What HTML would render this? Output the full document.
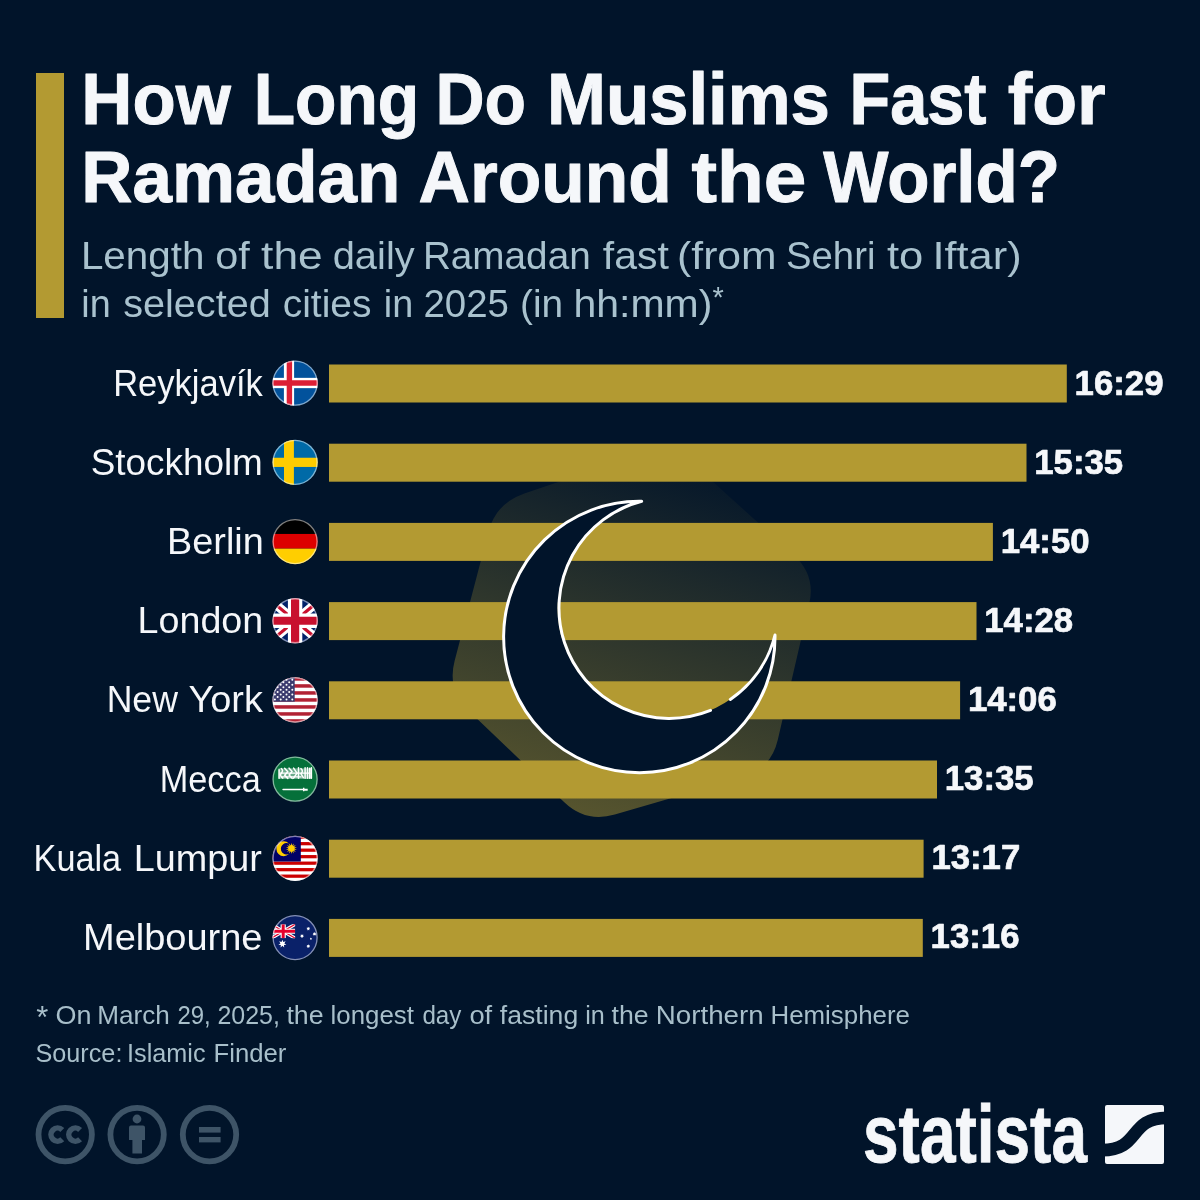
<!DOCTYPE html>
<html lang="en">
<head>
<meta charset="utf-8">
<title>How Long Do Muslims Fast for Ramadan Around the World?</title>
<style>
html,body{margin:0;padding:0;background:#01142a;}
body{width:1200px;height:1200px;overflow:hidden;}
svg{display:block;font-family:"Liberation Sans",sans-serif;}
.t{font-weight:700;font-size:71.5px;fill:#f5f7fa;stroke:#f5f7fa;stroke-width:1px;stroke-linejoin:round;}
.s{font-size:39.5px;fill:#a9c2ce;}
.c{font-size:36px;fill:#f5f7fa;}
.v{font-size:35.4px;font-weight:700;fill:#f5f7fa;stroke:#f5f7fa;stroke-width:0.7px;stroke-linejoin:round;}
.f{font-size:25px;fill:#a8bfca;}
</style>
</head>
<body>
<svg width="1200" height="1200" viewBox="0 0 1200 1200">
<defs>
<clipPath id="fc"><circle cx="0" cy="0" r="22.6"/></clipPath>
<linearGradient id="bg" gradientUnits="userSpaceOnUse" x1="710.3" y1="452.5" x2="592.3" y2="834.9">
<stop offset="0" stop-color="#b39a32" stop-opacity="0"/>
<stop offset="1" stop-color="#b39a32" stop-opacity="0.50"/>
</linearGradient>
</defs>
<rect width="1200" height="1200" fill="#01142a"/>
<rect x="36" y="73" width="28" height="245" fill="#b39a32"/>

<text class="t" y="124"><tspan x="81.30" textLength="149.50" lengthAdjust="spacingAndGlyphs">How</tspan> <tspan x="253.70" textLength="165.50" lengthAdjust="spacingAndGlyphs">Long</tspan> <tspan x="435.50" textLength="90.50" lengthAdjust="spacingAndGlyphs">Do</tspan> <tspan x="547.00" textLength="282.90" lengthAdjust="spacingAndGlyphs">Muslims</tspan> <tspan x="849.50" textLength="136.90" lengthAdjust="spacingAndGlyphs">Fast</tspan> <tspan x="1007.70" textLength="97.90" lengthAdjust="spacingAndGlyphs">for</tspan></text>
<text class="t" y="202.3"><tspan x="81.30" textLength="319.00" lengthAdjust="spacingAndGlyphs">Ramadan</tspan> <tspan x="418.50" textLength="253.20" lengthAdjust="spacingAndGlyphs">Around</tspan> <tspan x="691.40" textLength="114.80" lengthAdjust="spacingAndGlyphs">the</tspan> <tspan x="823.30" textLength="236.70" lengthAdjust="spacingAndGlyphs">World?</tspan></text>
<text class="s" y="269.4"><tspan x="80.90" textLength="123.50" lengthAdjust="spacingAndGlyphs">Length</tspan> <tspan x="215.20" textLength="34.50" lengthAdjust="spacingAndGlyphs">of</tspan> <tspan x="261.10" textLength="61.60" lengthAdjust="spacingAndGlyphs">the</tspan> <tspan x="332.70" textLength="82.00" lengthAdjust="spacingAndGlyphs">daily</tspan> <tspan x="422.90" textLength="167.80" lengthAdjust="spacingAndGlyphs">Ramadan</tspan> <tspan x="602.80" textLength="66.10" lengthAdjust="spacingAndGlyphs">fast</tspan> <tspan x="677.10" textLength="99.50" lengthAdjust="spacingAndGlyphs">(from</tspan> <tspan x="786.00" textLength="89.40" lengthAdjust="spacingAndGlyphs">Sehri</tspan> <tspan x="886.90" textLength="36.30" lengthAdjust="spacingAndGlyphs">to</tspan> <tspan x="932.50" textLength="89.10" lengthAdjust="spacingAndGlyphs">Iftar)</tspan></text>
<text class="s" y="317.4"><tspan x="81.30" textLength="29.40" lengthAdjust="spacingAndGlyphs">in</tspan> <tspan x="123.20" textLength="147.50" lengthAdjust="spacingAndGlyphs">selected</tspan> <tspan x="282.70" textLength="88.80" lengthAdjust="spacingAndGlyphs">cities</tspan> <tspan x="383.80" textLength="29.40" lengthAdjust="spacingAndGlyphs">in</tspan> <tspan x="423.50" textLength="85.50" lengthAdjust="spacingAndGlyphs">2025</tspan> <tspan x="520.10" textLength="43.10" lengthAdjust="spacingAndGlyphs">(in</tspan> <tspan x="573.40" textLength="139.00" lengthAdjust="spacingAndGlyphs">hh:mm)</tspan></text>
<text class="s" x="712.6" y="306.7" style="font-size:29px">*</text>

<path d="M488.4,532.0 Q496,503 524.4,493.4 L642.6,453.6 Q671,444 693.3,464.1 L793.7,554.9 Q816,575 809.2,604.2 L777.8,739.8 Q771,769 742.2,777.4 L614.8,814.6 Q586,823 564.3,802.3 L468.7,710.7 Q447,690 454.6,661.0 Z" fill="url(#bg)"/>
<rect x="329" y="364.50" width="737.8" height="38" fill="#b39a32"/>
<rect x="329" y="443.70" width="697.5" height="38" fill="#b39a32"/>
<rect x="329" y="522.90" width="663.9" height="38" fill="#b39a32"/>
<rect x="329" y="602.10" width="647.5" height="38" fill="#b39a32"/>
<rect x="329" y="681.30" width="631.1" height="38" fill="#b39a32"/>
<rect x="329" y="760.50" width="608.0" height="38" fill="#b39a32"/>
<rect x="329" y="839.70" width="594.6" height="38" fill="#b39a32"/>
<rect x="329" y="918.90" width="593.8" height="38" fill="#b39a32"/>
<path d="M641.7,501.3 A135.7,135.7 0 1 0 775,635 A110.3,110.3 0 1 1 641.7,501.3 Z" fill="#01142a"/>
<path d="M730.3,699.4 A110.3,110.3 0 0 0 775,635 A135.7,135.7 0 1 1 641.7,501.3 A110.3,110.3 0 1 0 710.5,710.4" fill="none" stroke="#fff" stroke-width="3" stroke-linejoin="round" stroke-linecap="round"/>
<text class="c" y="395.6"><tspan x="113.13" textLength="149.72" lengthAdjust="spacingAndGlyphs">Reykjavík</tspan></text>
<g transform="translate(295.1,383.15)" clip-path="url(#fc)">
<rect x="-23" y="-23" width="46" height="46" fill="#02529c"/>
<rect x="-11.2" y="-23" width="10.2" height="46" fill="#fff"/><rect x="-23" y="-5.3" width="46" height="10.3" fill="#fff"/>
<rect x="-8.4" y="-23" width="5.4" height="46" fill="#dc1e35"/><rect x="-23" y="-2.9" width="46" height="5.5" fill="#dc1e35"/>
</g>
<circle cx="295.1" cy="383.15" r="22.0" fill="none" stroke="#fff" stroke-opacity="0.5" stroke-width="1.3"/>
<text class="v" x="1074.6" y="395.10" textLength="88.9" lengthAdjust="spacingAndGlyphs">16:29</text>
<text class="c" y="474.8"><tspan x="90.70" textLength="172.15" lengthAdjust="spacingAndGlyphs">Stockholm</tspan></text>
<g transform="translate(295.1,462.35)" clip-path="url(#fc)">
<rect x="-23" y="-23" width="46" height="46" fill="#006aa7"/>
<rect x="-11.1" y="-23" width="9.9" height="46" fill="#fecc00"/><rect x="-23" y="-4.6" width="46" height="9.2" fill="#fecc00"/>
</g>
<circle cx="295.1" cy="462.35" r="22.0" fill="none" stroke="#fff" stroke-opacity="0.5" stroke-width="1.3"/>
<text class="v" x="1034.3" y="474.10" textLength="88.9" lengthAdjust="spacingAndGlyphs">15:35</text>
<text class="c" y="554.0"><tspan x="167.05" textLength="96.75" lengthAdjust="spacingAndGlyphs">Berlin</tspan></text>
<g transform="translate(295.1,541.55)" clip-path="url(#fc)">
<rect x="-23" y="-23" width="46" height="15.4" fill="#000"/><rect x="-23" y="-7.6" width="46" height="14.7" fill="#dd0000"/><rect x="-23" y="7.1" width="46" height="16" fill="#ffce00"/>
</g>
<circle cx="295.1" cy="541.55" r="22.0" fill="none" stroke="#fff" stroke-opacity="0.5" stroke-width="1.3"/>
<text class="v" x="1000.7" y="553.10" textLength="88.9" lengthAdjust="spacingAndGlyphs">14:50</text>
<text class="c" y="633.2"><tspan x="137.60" textLength="125.65" lengthAdjust="spacingAndGlyphs">London</tspan></text>
<g transform="translate(295.1,620.75)" clip-path="url(#fc)">
<rect x="-23" y="-23" width="46" height="46" fill="#012169"/>
<path d="M-30,-25 L30,25 M30,-25 L-30,25" stroke="#fff" stroke-width="9"/>
<path d="M-30,-25 L30,25 M30,-25 L-30,25" stroke="#c8102e" stroke-width="3.2"/>
<path d="M0,-23 V23 M-23,0 H23" stroke="#fff" stroke-width="14.4"/>
<path d="M0,-23 V23 M-23,0 H23" stroke="#c8102e" stroke-width="8.2"/>
</g>
<circle cx="295.1" cy="620.75" r="22.0" fill="none" stroke="#fff" stroke-opacity="0.5" stroke-width="1.3"/>
<text class="v" x="984.3" y="632.10" textLength="88.9" lengthAdjust="spacingAndGlyphs">14:28</text>
<text class="c" y="712.4"><tspan x="106.65" textLength="71.25" lengthAdjust="spacingAndGlyphs">New</tspan> <tspan x="188.40" textLength="74.45" lengthAdjust="spacingAndGlyphs">York</tspan></text>
<g transform="translate(295.1,699.95)" clip-path="url(#fc)">
<rect x="-23" y="-23" width="46" height="46" fill="#fff"/>
<rect x="-23" y="-22.75" width="46" height="3.5" fill="#b22234"/>
<rect x="-23" y="-15.75" width="46" height="3.5" fill="#b22234"/>
<rect x="-23" y="-8.75" width="46" height="3.5" fill="#b22234"/>
<rect x="-23" y="-1.75" width="46" height="3.5" fill="#b22234"/>
<rect x="-23" y="5.25" width="46" height="3.5" fill="#b22234"/>
<rect x="-23" y="12.25" width="46" height="3.5" fill="#b22234"/>
<rect x="-23" y="19.25" width="46" height="3.5" fill="#b22234"/>
<rect x="-23" y="-22.75" width="22.6" height="24.5" fill="#3c3b6e"/>
<g fill="#fff"><circle cx="-2.80" cy="-20.10" r="1.0"/><circle cx="-8.60" cy="-20.10" r="1.0"/><circle cx="-14.40" cy="-20.10" r="1.0"/><circle cx="-20.20" cy="-20.10" r="1.0"/><circle cx="-26.00" cy="-20.10" r="1.0"/><circle cx="-5.90" cy="-17.65" r="1.0"/><circle cx="-11.70" cy="-17.65" r="1.0"/><circle cx="-17.50" cy="-17.65" r="1.0"/><circle cx="-23.30" cy="-17.65" r="1.0"/><circle cx="-29.10" cy="-17.65" r="1.0"/><circle cx="-2.80" cy="-15.20" r="1.0"/><circle cx="-8.60" cy="-15.20" r="1.0"/><circle cx="-14.40" cy="-15.20" r="1.0"/><circle cx="-20.20" cy="-15.20" r="1.0"/><circle cx="-26.00" cy="-15.20" r="1.0"/><circle cx="-5.90" cy="-12.75" r="1.0"/><circle cx="-11.70" cy="-12.75" r="1.0"/><circle cx="-17.50" cy="-12.75" r="1.0"/><circle cx="-23.30" cy="-12.75" r="1.0"/><circle cx="-29.10" cy="-12.75" r="1.0"/><circle cx="-2.80" cy="-10.30" r="1.0"/><circle cx="-8.60" cy="-10.30" r="1.0"/><circle cx="-14.40" cy="-10.30" r="1.0"/><circle cx="-20.20" cy="-10.30" r="1.0"/><circle cx="-26.00" cy="-10.30" r="1.0"/><circle cx="-5.90" cy="-7.85" r="1.0"/><circle cx="-11.70" cy="-7.85" r="1.0"/><circle cx="-17.50" cy="-7.85" r="1.0"/><circle cx="-23.30" cy="-7.85" r="1.0"/><circle cx="-29.10" cy="-7.85" r="1.0"/><circle cx="-2.80" cy="-5.40" r="1.0"/><circle cx="-8.60" cy="-5.40" r="1.0"/><circle cx="-14.40" cy="-5.40" r="1.0"/><circle cx="-20.20" cy="-5.40" r="1.0"/><circle cx="-26.00" cy="-5.40" r="1.0"/><circle cx="-5.90" cy="-2.95" r="1.0"/><circle cx="-11.70" cy="-2.95" r="1.0"/><circle cx="-17.50" cy="-2.95" r="1.0"/><circle cx="-23.30" cy="-2.95" r="1.0"/><circle cx="-29.10" cy="-2.95" r="1.0"/><circle cx="-2.80" cy="-0.50" r="1.0"/><circle cx="-8.60" cy="-0.50" r="1.0"/><circle cx="-14.40" cy="-0.50" r="1.0"/><circle cx="-20.20" cy="-0.50" r="1.0"/><circle cx="-26.00" cy="-0.50" r="1.0"/></g>
</g>
<circle cx="295.1" cy="699.95" r="22.0" fill="none" stroke="#fff" stroke-opacity="0.5" stroke-width="1.3"/>
<text class="v" x="967.9" y="711.10" textLength="88.9" lengthAdjust="spacingAndGlyphs">14:06</text>
<text class="c" y="791.6"><tspan x="159.75" textLength="100.95" lengthAdjust="spacingAndGlyphs">Mecca</tspan></text>
<g transform="translate(295.1,779.15)" clip-path="url(#fc)">
<rect x="-23" y="-23" width="46" height="46" fill="#05703a"/>
<rect x="-16.6" y="-10.8" width="33" height="10.6" fill="#fff" fill-opacity="0.42"/>
<g stroke="#fff" fill="none" stroke-width="1.5" stroke-linecap="round" stroke-linejoin="round"><path d="M-16,-9.5 v8.5 M-13.8,-10.5 q2.5,2 0,4.5 q-2,2.5 1.5,5 M-10.5,-10.8 l3.2,3.4 l-3.2,3.4 l3.2,3.2 M-6,-11 l3,3.4 l-3,3.4 l3,3.4 M-1.5,-11 l3.4,5 l-3.4,5 M3.4,-11.3 v10.5 M5.8,-10.5 q3,2.5 0,5 l2.4,4 M10,-11.3 v10.5 M12.4,-11.3 v10.5 M14.6,-11 v10 M16.3,-11.3 v10.5"/><path d="M-15,-6 h30 M-14,-2.2 h20" stroke-width="1.2"/></g>
<path d="M-12,10.3 H9" stroke="#fff" stroke-width="1.6" stroke-linecap="round"/><path d="M8.6,8.6 v3.6" stroke="#fff" stroke-width="1.4"/><path d="M9,10.6 h3.6" stroke="#fff" stroke-width="2"/>
</g>
<circle cx="295.1" cy="779.15" r="22.0" fill="none" stroke="#fff" stroke-opacity="0.5" stroke-width="1.3"/>
<text class="v" x="944.8" y="790.10" textLength="88.9" lengthAdjust="spacingAndGlyphs">13:35</text>
<text class="c" y="870.8"><tspan x="33.60" textLength="87.55" lengthAdjust="spacingAndGlyphs">Kuala</tspan> <tspan x="133.65" textLength="128.20" lengthAdjust="spacingAndGlyphs">Lumpur</tspan></text>
<g transform="translate(295.1,858.35)" clip-path="url(#fc)">
<rect x="-23" y="-23" width="46" height="46" fill="#fff"/>
<rect x="-23" y="-22.80" width="46" height="3.25" fill="#cc0001"/>
<rect x="-23" y="-16.30" width="46" height="3.25" fill="#cc0001"/>
<rect x="-23" y="-9.80" width="46" height="3.25" fill="#cc0001"/>
<rect x="-23" y="-3.30" width="46" height="3.25" fill="#cc0001"/>
<rect x="-23" y="3.20" width="46" height="3.25" fill="#cc0001"/>
<rect x="-23" y="9.70" width="46" height="3.25" fill="#cc0001"/>
<rect x="-23" y="16.20" width="46" height="3.25" fill="#cc0001"/>
<rect x="-23" y="-22.8" width="28.7" height="26" fill="#010066"/>
<path d="M-6.21,-14.97 A7.4,7.4 0 1 0 -6.21,-4.23 A5.8,5.8 0 1 1 -6.21,-14.97 Z" fill="#ffcc00"/>
<polygon points="-3.70,-15.50 -3.05,-12.73 -1.27,-14.95 -1.89,-12.17 0.68,-13.39 -1.09,-11.16 1.76,-11.15 -0.80,-9.90 1.76,-8.65 -1.09,-8.64 0.68,-6.41 -1.89,-7.63 -1.27,-4.85 -3.05,-7.07 -3.70,-4.30 -4.35,-7.07 -6.13,-4.85 -5.51,-7.63 -8.08,-6.41 -6.31,-8.64 -9.16,-8.65 -6.60,-9.90 -9.16,-11.15 -6.31,-11.16 -8.08,-13.39 -5.51,-12.17 -6.13,-14.95 -4.35,-12.73" fill="#ffcc00"/>
</g>
<circle cx="295.1" cy="858.35" r="22.0" fill="none" stroke="#fff" stroke-opacity="0.5" stroke-width="1.3"/>
<text class="v" x="931.4" y="869.10" textLength="88.9" lengthAdjust="spacingAndGlyphs">13:17</text>
<text class="c" y="950.0"><tspan x="83.00" textLength="179.50" lengthAdjust="spacingAndGlyphs">Melbourne</tspan></text>
<g transform="translate(295.1,937.55)" clip-path="url(#fc)">
<rect x="-23" y="-23" width="46" height="46" fill="#0a2169"/>
<g transform="translate(-11.9,-6.3)"><clipPath id="uj"><rect x="-12" y="-7" width="24" height="14"/></clipPath><g clip-path="url(#uj)"><path d="M-12,-7 L12,7 M12,-7 L-12,7" stroke="#fff" stroke-width="3.4"/><path d="M-12,-7 L12,7 M12,-7 L-12,7" stroke="#e4002b" stroke-width="1.2"/><path d="M0,-7 V7 M-12,0 H12" stroke="#fff" stroke-width="5.2"/><path d="M0,-7 V7 M-12,0 H12" stroke="#e4002b" stroke-width="3"/></g></g>
<polygon points="-12.70,2.20 -11.83,4.50 -9.49,3.74 -10.75,5.85 -8.70,7.21 -11.14,7.55 -10.92,9.99 -12.70,8.30 -14.48,9.99 -14.26,7.55 -16.70,7.21 -14.65,5.85 -15.91,3.74 -13.57,4.50" fill="#fff"/>
<polygon points="13.20,-10.90 13.68,-9.89 14.76,-10.15 14.27,-9.14 15.15,-8.45 14.06,-8.21 14.07,-7.10 13.20,-7.80 12.33,-7.10 12.34,-8.21 11.25,-8.45 12.13,-9.14 11.64,-10.15 12.72,-9.89" fill="#fff"/>
<polygon points="6.90,-3.50 7.38,-2.49 8.46,-2.75 7.97,-1.74 8.85,-1.05 7.76,-0.81 7.77,0.30 6.90,-0.40 6.03,0.30 6.04,-0.81 4.95,-1.05 5.83,-1.74 5.34,-2.75 6.42,-2.49" fill="#fff"/>
<polygon points="19.40,-5.60 19.88,-4.59 20.96,-4.85 20.47,-3.84 21.35,-3.15 20.26,-2.91 20.27,-1.80 19.40,-2.50 18.53,-1.80 18.54,-2.91 17.45,-3.15 18.33,-3.84 17.84,-4.85 18.92,-4.59" fill="#fff"/>
<polygon points="13.20,6.60 13.68,7.61 14.76,7.35 14.27,8.36 15.15,9.05 14.06,9.29 14.07,10.40 13.20,9.70 12.33,10.40 12.34,9.29 11.25,9.05 12.13,8.36 11.64,7.35 12.72,7.61" fill="#fff"/>
<polygon points="15.80,0.05 16.21,0.68 16.94,0.88 16.47,1.47 16.51,2.22 15.80,1.95 15.09,2.22 15.13,1.47 14.66,0.88 15.39,0.68" fill="#fff"/>
</g>
<circle cx="295.1" cy="937.55" r="22.0" fill="none" stroke="#fff" stroke-opacity="0.5" stroke-width="1.3"/>
<text class="v" x="930.6" y="948.10" textLength="88.9" lengthAdjust="spacingAndGlyphs">13:16</text>
<text class="f" x="36.3" y="1027.6" style="font-size:31px">*</text>
<text class="f" y="1023.9"><tspan x="55.50" textLength="36.00" lengthAdjust="spacingAndGlyphs">On</tspan> <tspan x="97.30" textLength="72.50" lengthAdjust="spacingAndGlyphs">March</tspan> <tspan x="177.40" textLength="33.30" lengthAdjust="spacingAndGlyphs">29,</tspan> <tspan x="217.40" textLength="62.50" lengthAdjust="spacingAndGlyphs">2025,</tspan> <tspan x="286.40" textLength="37.20" lengthAdjust="spacingAndGlyphs">the</tspan> <tspan x="330.50" textLength="83.40" lengthAdjust="spacingAndGlyphs">longest</tspan> <tspan x="422.40" textLength="39.00" lengthAdjust="spacingAndGlyphs">day</tspan> <tspan x="469.40" textLength="22.80" lengthAdjust="spacingAndGlyphs">of</tspan> <tspan x="499.80" textLength="78.40" lengthAdjust="spacingAndGlyphs">fasting</tspan> <tspan x="585.20" textLength="19.60" lengthAdjust="spacingAndGlyphs">in</tspan> <tspan x="611.50" textLength="37.10" lengthAdjust="spacingAndGlyphs">the</tspan> <tspan x="655.80" textLength="107.80" lengthAdjust="spacingAndGlyphs">Northern</tspan> <tspan x="770.50" textLength="139.40" lengthAdjust="spacingAndGlyphs">Hemisphere</tspan></text>
<text class="f" y="1061.8"><tspan x="35.50" textLength="86.90" lengthAdjust="spacingAndGlyphs">Source:</tspan> <tspan x="127.10" textLength="78.50" lengthAdjust="spacingAndGlyphs">Islamic</tspan> <tspan x="213.50" textLength="72.90" lengthAdjust="spacingAndGlyphs">Finder</tspan></text>
<g fill="none" stroke="#3e5467" stroke-width="5.8">
<circle cx="65.2" cy="1134.6" r="26.7"/>
<circle cx="137.1" cy="1134.6" r="26.7"/>
<circle cx="209.5" cy="1134.6" r="26.7"/>
</g>
<g fill="none" stroke="#3e5467" stroke-width="5.6">
<path d="M62.27,1129.93 A6.6,6.6 0 1 0 62.27,1139.27"/>
<path d="M80.07,1129.93 A6.6,6.6 0 1 0 80.07,1139.27"/>
</g>
<g fill="#3e5467">
<circle cx="137" cy="1119" r="4.4"/>
<path d="M129,1127.6 q0,-2 2,-2 h12 q2,0 2,2 v12.4 h-3 v13.6 h-9.6 v-13.6 h-3.4 z"/>
<rect x="199" y="1127" width="21.6" height="5.6"/>
<rect x="199" y="1137" width="21.6" height="5.4"/>
</g>
<text x="863" y="1162" font-size="81" font-weight="700" fill="#f5f7fa" stroke="#f5f7fa" stroke-width="0.8" textLength="224" lengthAdjust="spacingAndGlyphs">statista</text>
<rect x="1105" y="1105" width="59" height="59" rx="2" fill="#f5f7fa"/>
<path d="M1102,1150.2 C1141,1150.2 1128,1117.8 1167,1117.8" fill="none" stroke="#01142a" stroke-width="12.7"/>
</svg>
</body>
</html>
